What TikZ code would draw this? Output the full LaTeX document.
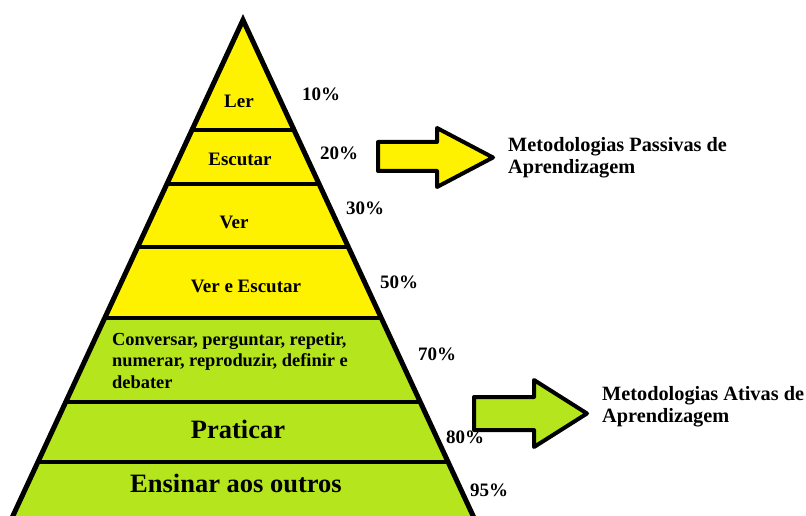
\documentclass[tikz,border=0pt]{standalone}
\usepackage{fontspec}
\setmainfont{Liberation Serif}
\newfontfamily\timesfam{Liberation Serif}
\usetikzlibrary{calc}
\definecolor{pyel}{RGB}{255,242,0}
\definecolor{pgrn}{RGB}{181,230,29}
\tikzset{
  lbl/.style={font=\timesfam\bfseries\fontsize{19}{21.5}\selectfont, inner sep=0pt, anchor=base},
  pct/.style={lbl, anchor=base west},
  convlbl/.style={font=\timesfam\bfseries\fontsize{18.4}{21.2}\selectfont, inner sep=0pt, anchor=base west, align=left},
  sidelbl/.style={font=\timesfam\bfseries\fontsize{20.3}{21.5}\selectfont, inner sep=0pt, anchor=base west, align=left},
  biglbl/.style={font=\timesfam\bfseries\fontsize{26.5}{28}\selectfont, inner sep=0pt, anchor=base},
  pyroutline/.style={line width=5pt, line join=miter},
  bandline/.style={line width=4pt},
  bigarrow/.style={draw=black, line width=4pt, line join=round},
}
\newcommand{\pyrleft}[1]{($(apex)!{(#1-20)/520}!(bl)$)}
\newcommand{\pyrright}[1]{($(apex)!{(#1-20)/520}!(br)$)}
\begin{document}
\begin{tikzpicture}[x=1pt,y=-1pt]
\useasboundingbox (0,0) rectangle (806,516);
\coordinate (apex) at (243,20);
\coordinate (bl) at (1.7,540);
\coordinate (br) at (484.3,540);
% fills
\fill[pyel] (apex) -- \pyrleft{318} -- \pyrright{318} -- cycle;
\fill[pgrn] \pyrleft{318} -- (bl) -- (br) -- \pyrright{318} -- cycle;
% band lines
\foreach \yy in {130,184.5,246.7,318,401.7,461.7}{
  \draw[bandline] \pyrleft{\yy} -- \pyrright{\yy};
}
\draw[pyroutline] (bl) -- (apex) -- (br);
% labels
\node[lbl] (ler) at (239,108) {Ler};
\node[lbl] (escutar) at (240,166) {Escutar};
\node[lbl] (ver) at (234,228) {Ver};
\node[lbl] (vereesc) at (246,292) {Ver e Escutar};
\node[convlbl] (conv) at (112,388) {Conversar, perguntar, repetir,\\numerar, reproduzir, definir e\\debater};
\node[biglbl] (praticar) at (238,438) {Praticar};
\node[biglbl] (ensinar) at (236,492) {Ensinar aos outros};
% percentages
\node[pct] (p10) at (302,101) {10\%};
\node[pct] (p20) at (320,160) {20\%};
\node[pct] (p30) at (346,214) {30\%};
\node[pct] (p50) at (380,288) {50\%};
\node[pct] (p70) at (418,360) {70\%};
\node[pct] (p80) at (446,443) {80\%};
\node[pct] (p95) at (470,496) {95\%};
% arrows
\draw[bigarrow, fill=pyel] (378,142) -- (437,142) -- (437,128) -- (493,157.5) -- (437,187) -- (437,171) -- (378,171) -- cycle;
\draw[bigarrow, fill=pgrn] (474,397) -- (534,397) -- (534,380) -- (587,413.5) -- (534,447) -- (534,430) -- (474,430) -- cycle;
\node[sidelbl] (passivas) at (508,173) {Metodologias Passivas de\\Aprendizagem};
\node[sidelbl] (ativas) at (602,422) {Metodologias Ativas de\\Aprendizagem};
\end{tikzpicture}
\end{document}
